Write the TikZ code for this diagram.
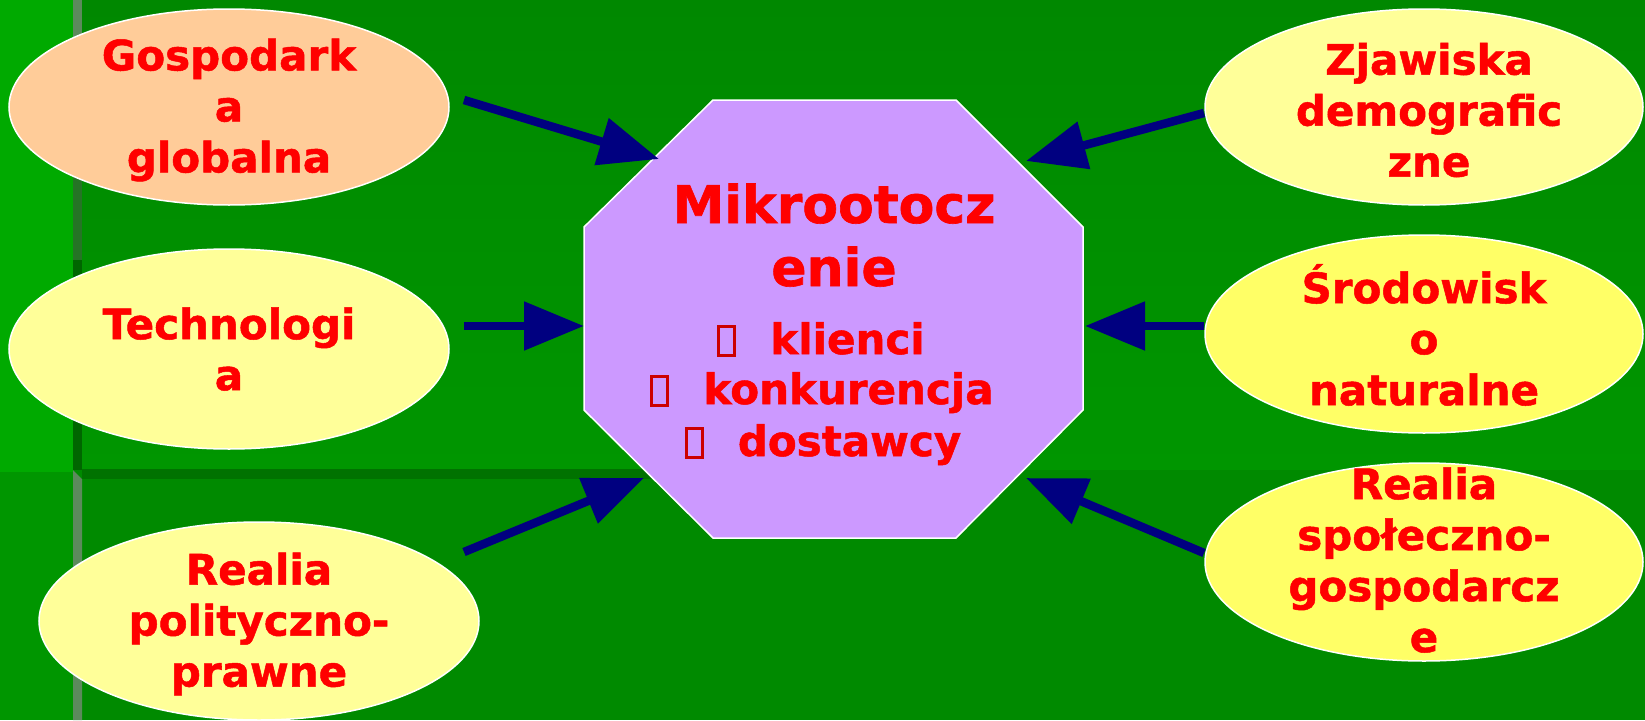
\documentclass[tikz,border=0pt]{standalone}
\usepackage{fontspec}
\setmainfont{DejaVu Sans}[BoldFeatures={FakeBold=1.2}]
\usetikzlibrary{arrows.meta,shapes.geometric}
\definecolor{gtop}{HTML}{008800}
\definecolor{gmid}{HTML}{009600}
\definecolor{glow}{HTML}{008A00}
\definecolor{gstrip}{HTML}{00AA00}
\definecolor{gstriplow}{HTML}{009600}
\definecolor{gline}{HTML}{007200}
\definecolor{bargray}{HTML}{5C8A5C}
\definecolor{bardark}{HTML}{006600}
\definecolor{peach}{HTML}{FFCC99}
\definecolor{paleyel}{HTML}{FFFF99}
\definecolor{yel}{HTML}{FFFF66}
\definecolor{lilac}{HTML}{CC99FF}
\definecolor{navyarr}{HTML}{000080}
\definecolor{txtred}{HTML}{FF0000}
\definecolor{bulletred}{HTML}{CC0000}
\newcommand\bulbox{\textcolor{bulletred}{\fboxrule=3pt\fboxsep=0pt\fbox{\rule{0pt}{26pt}\hspace{13pt}}}}
\tikzset{
  oval/.style={ellipse,draw=white,line width=1.5pt,inner sep=0pt},
  lbl/.style={text=txtred,font=\fontsize{42}{51}\selectfont\bfseries,align=center,inner sep=0pt},
  ttl/.style={text=txtred,font=\fontsize{52}{63}\selectfont\bfseries,inner sep=0pt,anchor=base},
  itm/.style={text=txtred,font=\fontsize{42}{51}\selectfont\bfseries,inner sep=0pt,anchor=base},
  arr/.style={draw=navyarr,line width=8.5pt,-{Triangle[length=60pt,width=47pt]}},
}
\begin{document}
\begin{tikzpicture}[x=1pt,y=-1pt]
\useasboundingbox (0,0) rectangle (1645,720);
% background
\shade[top color=gtop,bottom color=gmid] (0,0) rectangle (1645,470);
\fill[glow] (0,470) rectangle (1645,720);
\fill[gstrip] (0,0) rectangle (73,472);
\fill[gstriplow] (0,472) rectangle (73,720);
\fill[bargray] (73,0) rectangle (82,150);
\fill[bardark!60!bargray] (73,150) rectangle (82,260);
\fill[bardark] (73,260) rectangle (82,470);
\fill[gline] (82,469) rectangle (700,479);
\fill[bargray] (73,470) -- (82,479) -- (82,720) -- (73,720) -- cycle;
% octagon
\fill[lilac,draw=white,line width=1.5pt] (713,100) -- (956,100) -- (1083,227) -- (1083,410) -- (956,538) -- (713,538) -- (584,410) -- (584,227) -- cycle;
\coordinate (oct) at (833,319);
% ellipses
\node[oval,fill=peach,minimum width=440pt,minimum height=196pt] (e1) at (229,107) {};
\node[oval,fill=paleyel,minimum width=440pt,minimum height=200pt] (e2) at (229,349) {};
\node[oval,fill=paleyel,minimum width=440pt,minimum height=198pt] (e3) at (259,621) {};
\node[oval,fill=paleyel,minimum width=438pt,minimum height=196pt] (e4) at (1424,107) {};
\node[oval,fill=yel,minimum width=438pt,minimum height=198pt] (e5) at (1424,334) {};
\node[oval,fill=yel,minimum width=438pt,minimum height=198pt] (e6) at (1424,562) {};
% ellipse texts
\node[lbl] (t1) at (229,110) {Gospodark\\a\\globalna};
\node[lbl] (t2) at (229,349) {Technologi\\a};
\node[lbl] (t3) at (259,624) {Realia\\polityczno-\\prawne};
\node[lbl] (t4) at (1429,110) {Zjawiska\\demografic\\zne};
\node[lbl] (t5) at (1424,335) {Środowisk\\o\\naturalne};
\node[lbl] (t6) at (1424,560) {Realia\\społeczno-\\gospodarcz\\e};
% octagon texts
\node[ttl] (m1) at (834,223) {Mikrootocz};
\node[ttl] (m2) at (834,286) {enie};
\node[itm] (l1) at (821,354) {\bulbox\hspace{34pt}klienci};
\node[itm] (l2) at (822,404) {\bulbox\hspace{34pt}konkurencja};
\node[itm] (l3) at (823,456) {\bulbox\hspace{34pt}dostawcy};
% arrows
\coordinate (s1) at (464,100); \coordinate (p1) at (659,159);
\coordinate (s2) at (464,326); \coordinate (p2) at (584,326);
\coordinate (s3) at (464,552); \coordinate (p3) at (644,478);
\coordinate (s4) at (1204,113); \coordinate (p4) at (1026,161);
\coordinate (s5) at (1204,326); \coordinate (p5) at (1085,326);
\coordinate (s6) at (1204,553); \coordinate (p6) at (1026,478);
\draw[arr] (s1) -- (p1);
\draw[arr] (s2) -- (p2);
\draw[arr] (s3) -- (p3);
\draw[arr] (s4) -- (p4);
\draw[arr] (s5) -- (p5);
\draw[arr] (s6) -- (p6);
\end{tikzpicture}
\end{document}
